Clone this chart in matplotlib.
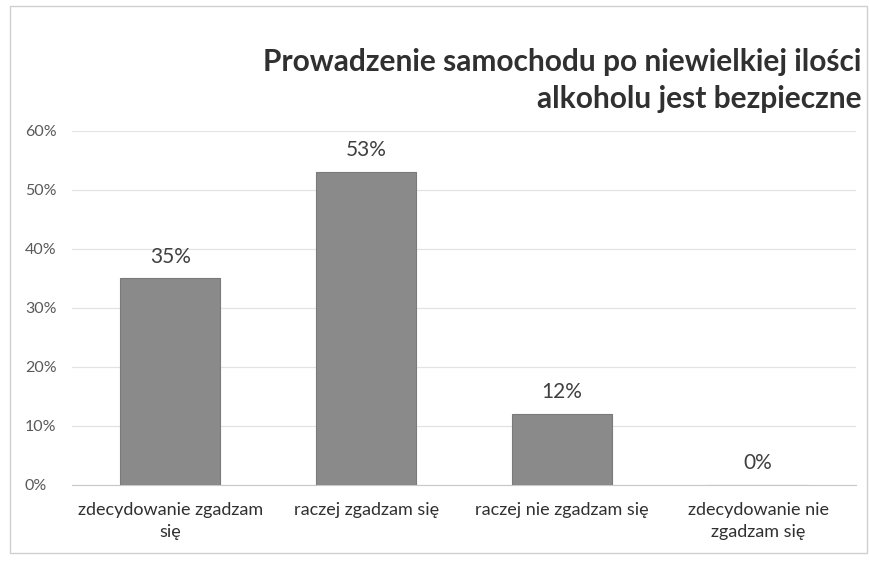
import matplotlib
matplotlib.use("Agg")
import matplotlib.pyplot as plt
from matplotlib.patches import Rectangle
from matplotlib.ticker import PercentFormatter

plt.rcParams['font.family'] = ['Lato', 'DejaVu Sans']

categories = ["zdecydowanie zgadzam\nsię", "raczej zgadzam się",
              "raczej nie zgadzam się", "zdecydowanie nie\nzgadzam się"]
values = [35, 53, 12, 0]
y_ticks = [0, 10, 20, 30, 40, 50, 60]
title = "Prowadzenie samochodu po niewielkiej ilości\nalkoholu jest bezpieczne"

fig = plt.figure(figsize=(8.7, 5.61), dpi=100)
ax = fig.add_axes([0.083, 0.1355, 0.901, 0.631])

x = range(len(categories))
bars = ax.bar(x, values, width=0.51, color="#8a8a8a", edgecolor="#7a7a7a",
              linewidth=0.8, zorder=3)
for b, v in zip(bars, values):
    ax.text(b.get_x() + b.get_width() / 2, v + 2.0, f"{v}%", ha="center",
            va="bottom", fontsize=15, color="#404040")

ax.set_xlim(-0.5, len(categories) - 0.5)
ax.set_ylim(0, 60)
ax.set_yticks(y_ticks)
ax.yaxis.set_major_formatter(PercentFormatter(decimals=0))
ax.set_xticks(list(x))
ax.set_xticklabels(categories, fontsize=13, color="#303030", linespacing=1.45)
ax.tick_params(axis="y", labelsize=11.5, labelcolor="#595959", length=0, pad=34)
ax.tick_params(axis="x", length=0, pad=12)
for lbl in ax.get_yticklabels():
    lbl.set_horizontalalignment("left")

ax.grid(axis="y", color="#e3e3e3", linewidth=0.9, zorder=0)
for s in ["top", "right", "left"]:
    ax.spines[s].set_visible(False)
ax.spines["bottom"].set_color("#c8c8c8")

fig.text(0.99, 0.915, title, ha="right", va="top", fontsize=21.5,
         fontweight="bold", color="#303030", linespacing=1.4)

fig.patches.append(Rectangle((0.012, 0.015), 0.985, 0.975, transform=fig.transFigure,
                             fill=False, edgecolor="#d0d0d0", linewidth=1))

fig.savefig("out.png", dpi=100)
